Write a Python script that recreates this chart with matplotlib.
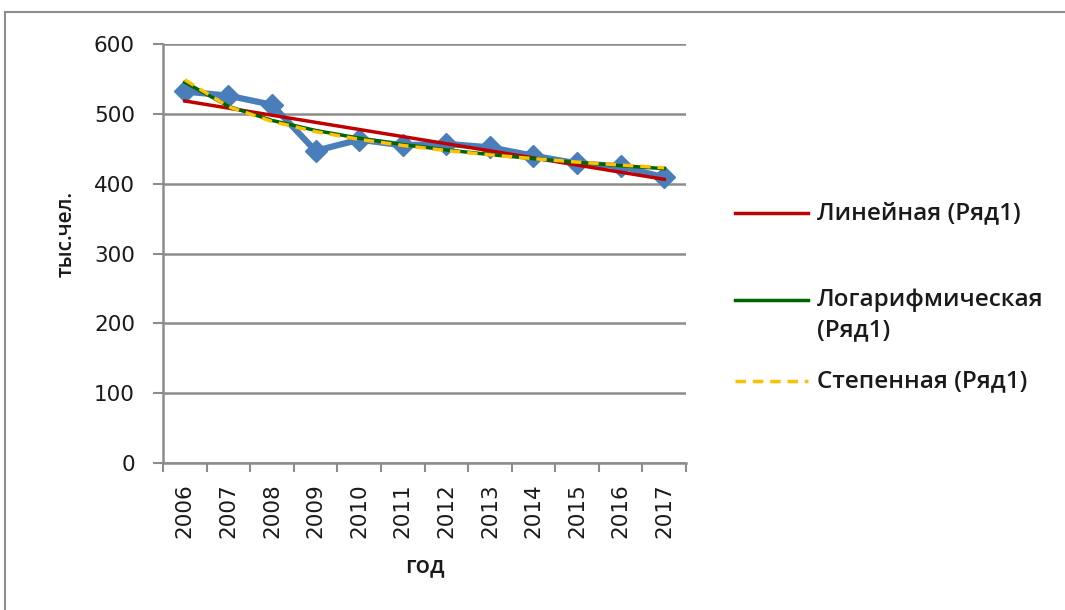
import numpy as np
import matplotlib
matplotlib.use("Agg")
import matplotlib.pyplot as plt
from matplotlib.patches import Rectangle
from matplotlib.lines import Line2D

years = ["2006", "2007", "2008", "2009", "2010", "2011", "2012", "2013", "2014", "2015", "2016", "2017"]
values = [532, 526, 513, 447, 463, 455, 457, 452, 440, 429, 425, 409]
legend_labels = ["Линейная (Ряд1)", "Логарифмическая\n(Ряд1)", "Степенная (Ряд1)"]
y_ticks = [0, 100, 200, 300, 400, 500, 600]

plt.rcParams['font.family'] = ['DejaVu Sans']
TXT = '#1a1a1a'
lfont = ['Open Sans', 'DejaVu Sans']

W, H = 1065, 610
fig = plt.figure(figsize=(W/100, H/100), dpi=100)
fig.patches.append(Rectangle((5/W, -0.1), 1.2, 1 - 12/H + 0.1, transform=fig.transFigure,
                             fill=False, edgecolor='#8c8c8c', linewidth=1.5, zorder=0))

ax = fig.add_axes([163/W, 1 - 463/H, (686 - 163)/W, (463 - 44)/H])
n = len(values)
x = np.arange(n)
y = np.array(values, dtype=float)
t = x + 1.0

# trend lines fitted to the series (as Excel does)
lin = np.polyfit(t, y, 1)
y_lin = np.polyval(lin, t)
lg = np.polyfit(np.log(t), y, 1)
y_log = lg[0] * np.log(t) + lg[1]
pw = np.polyfit(np.log(t), np.log(y), 1)
y_pow = np.exp(pw[1]) * t ** pw[0]

ax.plot(x, y, color='#4a7ebb', linewidth=4.5, marker='D', markersize=11, zorder=3)
ax.plot(x, y_lin, color='#c00000', linewidth=2.5, zorder=4)
ax.plot(x, y_log, color='#006400', linewidth=2.5, zorder=4)
ax.plot(x, y_pow, color='#ffc000', linewidth=2.5, linestyle=(0, (3, 2)), zorder=5)

ax.set_xlim(-0.5, n - 0.5)
ax.set_ylim(0, 600)
ax.set_yticks(y_ticks)
ax.set_yticklabels([str(v) for v in y_ticks], fontsize=15.5, color=TXT)
ax.yaxis.grid(True, color='#8c8c8c', linewidth=1.8)
ax.set_axisbelow(True)

ax.set_xticks(x)
ax.set_xticklabels(years, rotation=90, fontsize=15.5, color=TXT)
ax.set_xticks(np.arange(n + 1) - 0.5, minor=True)
ax.tick_params(axis='x', which='major', length=0, pad=14.5)
ax.tick_params(axis='x', which='minor', length=6.5, width=1.5, color='#8c8c8c')
ax.tick_params(axis='y', length=7.2, width=1.5, color='#8c8c8c', pad=13)

for s in ['top', 'right']:
    ax.spines[s].set_visible(False)
for s in ['left', 'bottom']:
    ax.spines[s].set_color('#8c8c8c')
    ax.spines[s].set_linewidth(1.8)

fig.text(66/W, 1 - 234/H, "тыс.чел.", rotation=90, fontsize=15, family=lfont, weight='semibold',
         color=TXT, ha='center', va='center')
fig.text(425/W, 1 - 566/H, "год", fontsize=17, family=lfont, weight='semibold',
         color=TXT, ha='center', va='center')

# legend (trend lines only)
leg_styles = [dict(color='#c00000', linestyle='-'),
              dict(color='#006400', linestyle='-'),
              dict(color='#ffc000', linestyle=(0, (3, 2)))]
leg_y = [213, 300, 381]
for lab, st, yy in zip(legend_labels, leg_styles, leg_y):
    fig.add_artist(Line2D([735/W, 808/W], [1 - yy/H, 1 - yy/H], transform=fig.transFigure,
                          linewidth=2.5, **st))
    for k, ln in enumerate(lab.split('\n')):
        fig.text(817/W, 1 - (yy + 30*k)/H, ln, fontsize=17.5, family=lfont, weight='semibold',
                 color=TXT, ha='left', va='center')

fig.savefig("out.png", dpi=100, facecolor='white')
